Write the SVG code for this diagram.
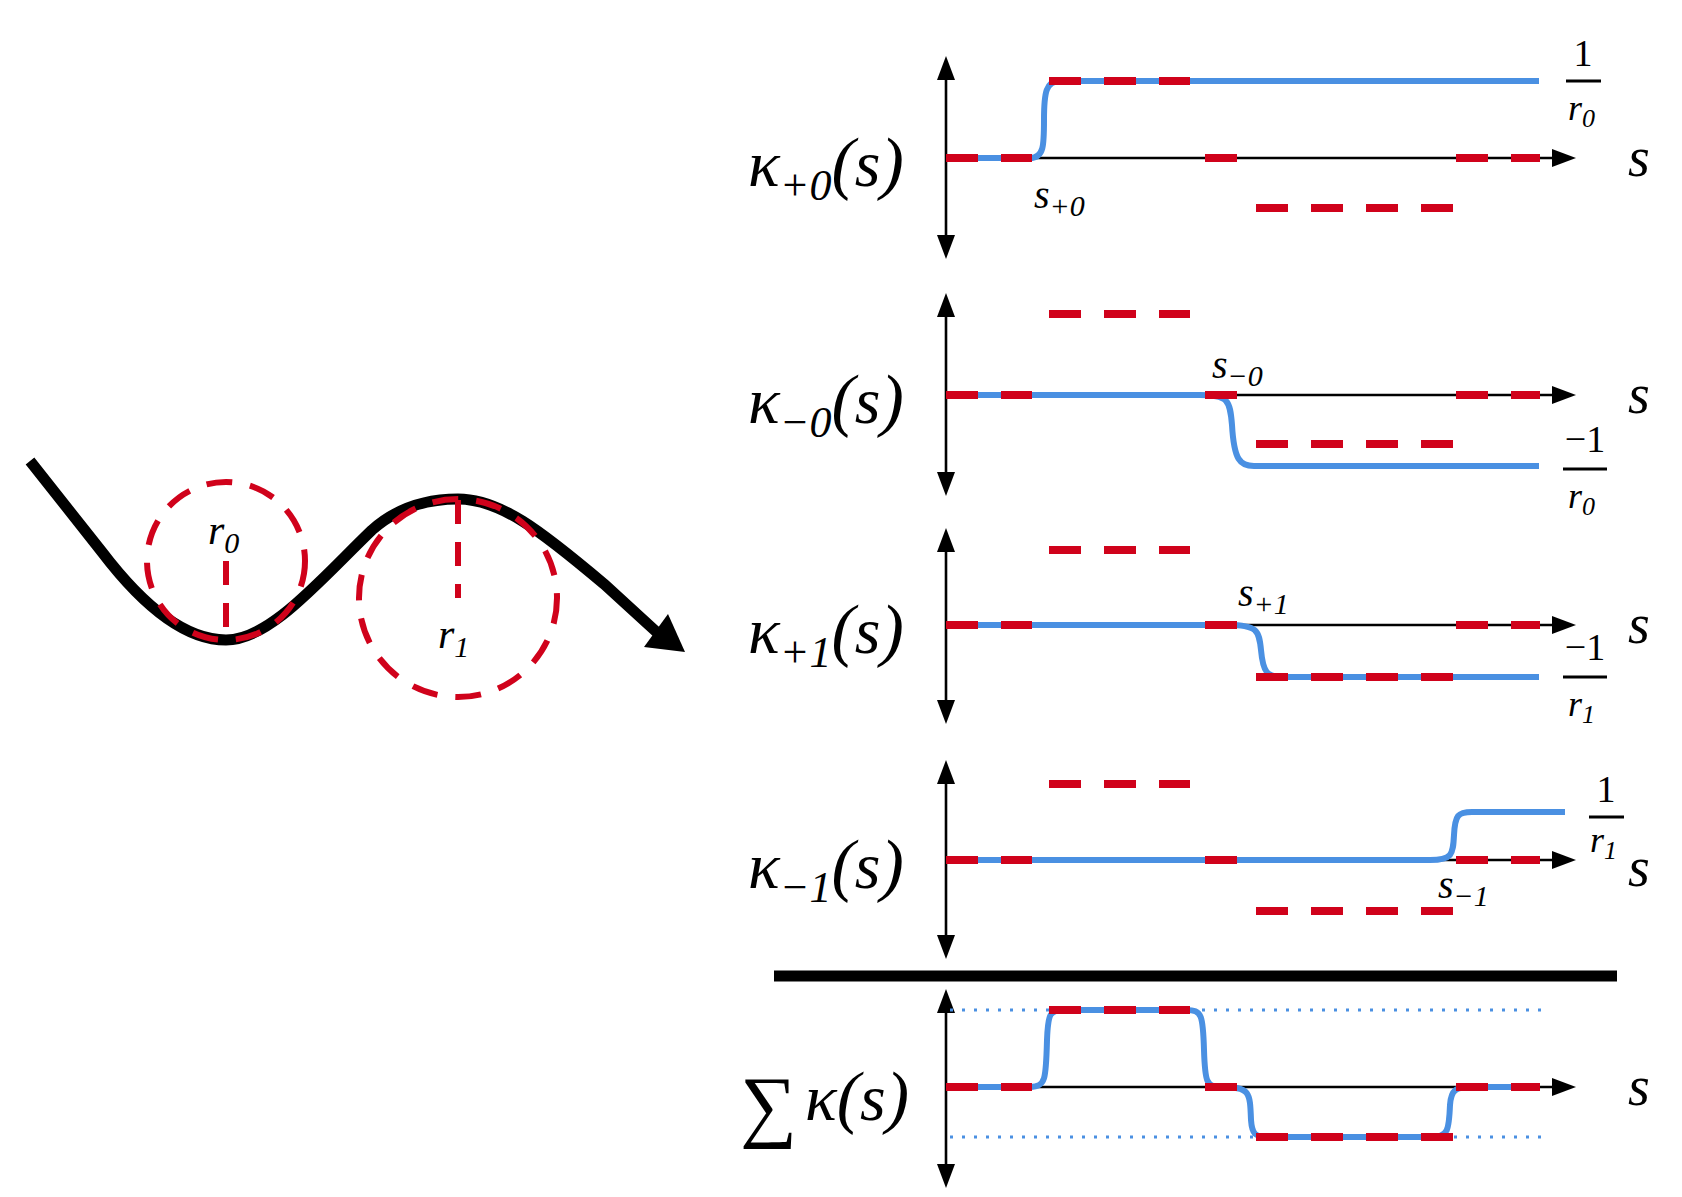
<svg xmlns="http://www.w3.org/2000/svg" width="1682" height="1197" viewBox="0 0 1682 1197">
<defs>
<style>
.ax{stroke:#000;stroke-width:2.6;fill:none}
.ah{fill:#000}
.bl{stroke:#4a90e2;stroke-width:6;fill:none}
.rd{stroke:#d0021b;stroke-width:8;fill:none;stroke-dasharray:32 23}
.dot{stroke:#4a90e2;stroke-width:3;fill:none;stroke-dasharray:3 9}
.t{font-family:"Liberation Serif","DejaVu Serif",serif;font-style:italic;fill:#000}
.n{font-family:"Liberation Serif","DejaVu Serif",serif;fill:#000}
</style>
</defs>
<rect width="1682" height="1197" fill="#fff"/>
<g id="curve">
<path d="M30,461 L102,552 C150,615 190,640 226,640 C270,640 320,580 372,530 C400,505 430,499 458,499 C500,499 540,530 604,584 L662,637" stroke="#000" stroke-width="11" fill="none"/>
<polygon points="685,652 644,647 668,614" fill="#000"/>
<circle cx="226" cy="561" r="79" fill="none" stroke="#d0021b" stroke-width="6" stroke-dasharray="26 18"/>
<circle cx="458" cy="598" r="99" fill="none" stroke="#d0021b" stroke-width="6" stroke-dasharray="26 18"/>
<line x1="226" y1="561" x2="226" y2="639" stroke="#d0021b" stroke-width="6" stroke-dasharray="24 18"/>
<line x1="458" y1="500" x2="458" y2="598" stroke="#d0021b" stroke-width="6" stroke-dasharray="24 18"/>
<text class="t" x="208" y="544" font-size="42">r<tspan class="n" font-size="30" dy="9">0</tspan></text>
<text class="t" x="438" y="648" font-size="42">r<tspan class="n" font-size="30" dy="9">1</tspan></text>
</g>
<g id="connectors">
<g id="axes">
<line class="ax" x1="946" y1="70" x2="946" y2="245"/><polygon class="ah" points="946,56 937,80 955,80"/><polygon class="ah" points="946,259 937,235 955,235"/>
<line class="ax" x1="946" y1="158" x2="1560" y2="158"/><polygon class="ah" points="1576,158 1552,149 1552,167"/>
<line class="ax" x1="946" y1="307" x2="946" y2="482"/><polygon class="ah" points="946,293 937,317 955,317"/><polygon class="ah" points="946,496 937,472 955,472"/>
<line class="ax" x1="946" y1="395" x2="1560" y2="395"/><polygon class="ah" points="1576,395 1552,386 1552,404"/>
<line class="ax" x1="946" y1="542" x2="946" y2="710"/><polygon class="ah" points="946,528 937,552 955,552"/><polygon class="ah" points="946,724 937,700 955,700"/>
<line class="ax" x1="946" y1="625" x2="1560" y2="625"/><polygon class="ah" points="1576,625 1552,616 1552,634"/>
<line class="ax" x1="946" y1="774" x2="946" y2="945"/><polygon class="ah" points="946,760 937,784 955,784"/><polygon class="ah" points="946,959 937,935 955,935"/>
<line class="ax" x1="946" y1="860" x2="1560" y2="860"/><polygon class="ah" points="1576,860 1552,851 1552,869"/>
<line x1="774" y1="976" x2="1617" y2="976" stroke="#000" stroke-width="11"/>
<line class="ax" x1="946" y1="1003" x2="946" y2="1174"/><polygon class="ah" points="946,989 937,1013 955,1013"/><polygon class="ah" points="946,1188 937,1164 955,1164"/>
<line class="ax" x1="946" y1="1087" x2="1560" y2="1087"/><polygon class="ah" points="1576,1087 1552,1078 1552,1096"/>
</g>
<path class="bl" d="M946,158 L1030,158 C1044,158 1044,145 1044,120 C1044,92 1046,81 1060,81 L1539,81"/>
<path class="bl" d="M946,395 L1200,395 C1228,395 1230,400 1232,425 C1234,460 1240,466 1254,466 L1539,466"/>
<path class="bl" d="M946,625 L1228,625 C1257,625 1259,630 1261,650 C1263,672 1267,677 1282,677 L1539,677"/>
<path class="bl" d="M946,860 L1430,860 C1452,860 1453,855 1454,835 C1455,815 1458,812 1472,812 L1565,812"/>
<path class="bl" d="M946,1087 L1030,1087 C1046,1087 1046,1078 1047,1040 C1048,1013 1050,1010 1064,1010 L1186,1010 C1202,1010 1203,1015 1204,1050 C1205,1082 1206,1087 1222,1087 C1250,1087 1250,1092 1251,1120 C1252,1134 1255,1137 1268,1137 L1432,1137 C1448,1137 1449,1130 1450,1105 C1451,1090 1456,1087 1470,1087 L1537,1087"/>
<line class="dot" x1="950" y1="1010" x2="1541" y2="1010"/>
<line class="dot" x1="950" y1="1137" x2="1541" y2="1137"/>
<g id="red">
<path class="rd" d="M946,158 H1032 M1049,81 H1190 M1205,158 H1237 M1256,208 H1453 M1456,158 H1540"/>
<path class="rd" d="M946,395 H1032 M1049,314 H1190 M1205,395 H1237 M1256,444 H1453 M1456,395 H1540"/>
<path class="rd" d="M946,625 H1032 M1049,550 H1190 M1205,625 H1237 M1256,677 H1453 M1456,625 H1540"/>
<path class="rd" d="M946,860 H1032 M1049,784 H1190 M1205,860 H1237 M1256,911 H1453 M1456,860 H1540"/>
<path class="rd" d="M946,1087 H1032 M1049,1010 H1190 M1205,1087 H1237 M1256,1137 H1453 M1456,1087 H1540"/>
</g>
</g>
<g id="labels">
<text class="t" x="748" y="186" font-size="66">κ<tspan class="n" font-size="44" dy="14">+0</tspan><tspan class="n" font-size="70" dy="-14">(</tspan>s<tspan class="n" font-size="70">)</tspan></text>
<text class="t" x="748" y="423" font-size="66">κ<tspan class="n" font-size="44" dy="14">−0</tspan><tspan class="n" font-size="70" dy="-14">(</tspan>s<tspan class="n" font-size="70">)</tspan></text>
<text class="t" x="748" y="653" font-size="66">κ<tspan class="n" font-size="44" dy="14">+1</tspan><tspan class="n" font-size="70" dy="-14">(</tspan>s<tspan class="n" font-size="70">)</tspan></text>
<text class="t" x="748" y="888" font-size="66">κ<tspan class="n" font-size="44" dy="14">−1</tspan><tspan class="n" font-size="70" dy="-14">(</tspan>s<tspan class="n" font-size="70">)</tspan></text>
<text class="n" x="740" y="1132" font-size="80">∑</text>
<text class="t" x="805" y="1120" font-size="66">κ<tspan class="n" font-size="70">(</tspan>s<tspan class="n" font-size="70">)</tspan></text>
<text class="t" x="1628" y="176" font-size="56">s</text>
<text class="t" x="1628" y="413" font-size="56">s</text>
<text class="t" x="1628" y="643" font-size="56">s</text>
<text class="t" x="1628" y="886" font-size="56">s</text>
<text class="t" x="1628" y="1105" font-size="56">s</text>
<text class="t" x="1034" y="208" font-size="40">s<tspan class="n" font-size="30" dy="8">+0</tspan></text>
<text class="t" x="1212" y="378" font-size="40">s<tspan class="n" font-size="30" dy="8">−0</tspan></text>
<text class="t" x="1238" y="606" font-size="40">s<tspan class="n" font-size="30" dy="8">+1</tspan></text>
<text class="t" x="1438" y="898" font-size="40">s<tspan class="n" font-size="30" dy="8">−1</tspan></text>
<g id="frac1"><text class="n" x="1583" y="66" font-size="38" text-anchor="middle">1</text><line x1="1566" y1="81" x2="1601" y2="81" stroke="#000" stroke-width="3"/><text class="t" x="1568" y="120" font-size="36">r<tspan class="n" font-size="26" dy="7">0</tspan></text></g>
<g id="frac2"><text class="n" x="1585" y="452" font-size="38" text-anchor="middle">−1</text><line x1="1563" y1="469" x2="1607" y2="469" stroke="#000" stroke-width="3"/><text class="t" x="1568" y="508" font-size="36">r<tspan class="n" font-size="26" dy="7">0</tspan></text></g>
<g id="frac3"><text class="n" x="1585" y="660" font-size="38" text-anchor="middle">−1</text><line x1="1563" y1="677" x2="1607" y2="677" stroke="#000" stroke-width="3"/><text class="t" x="1568" y="716" font-size="36">r<tspan class="n" font-size="26" dy="7">1</tspan></text></g>
<g id="frac4"><text class="n" x="1606" y="802" font-size="38" text-anchor="middle">1</text><line x1="1589" y1="817" x2="1624" y2="817" stroke="#000" stroke-width="3"/><text class="t" x="1590" y="852" font-size="36">r<tspan class="n" font-size="26" dy="7">1</tspan></text></g>
</g>
</svg>
